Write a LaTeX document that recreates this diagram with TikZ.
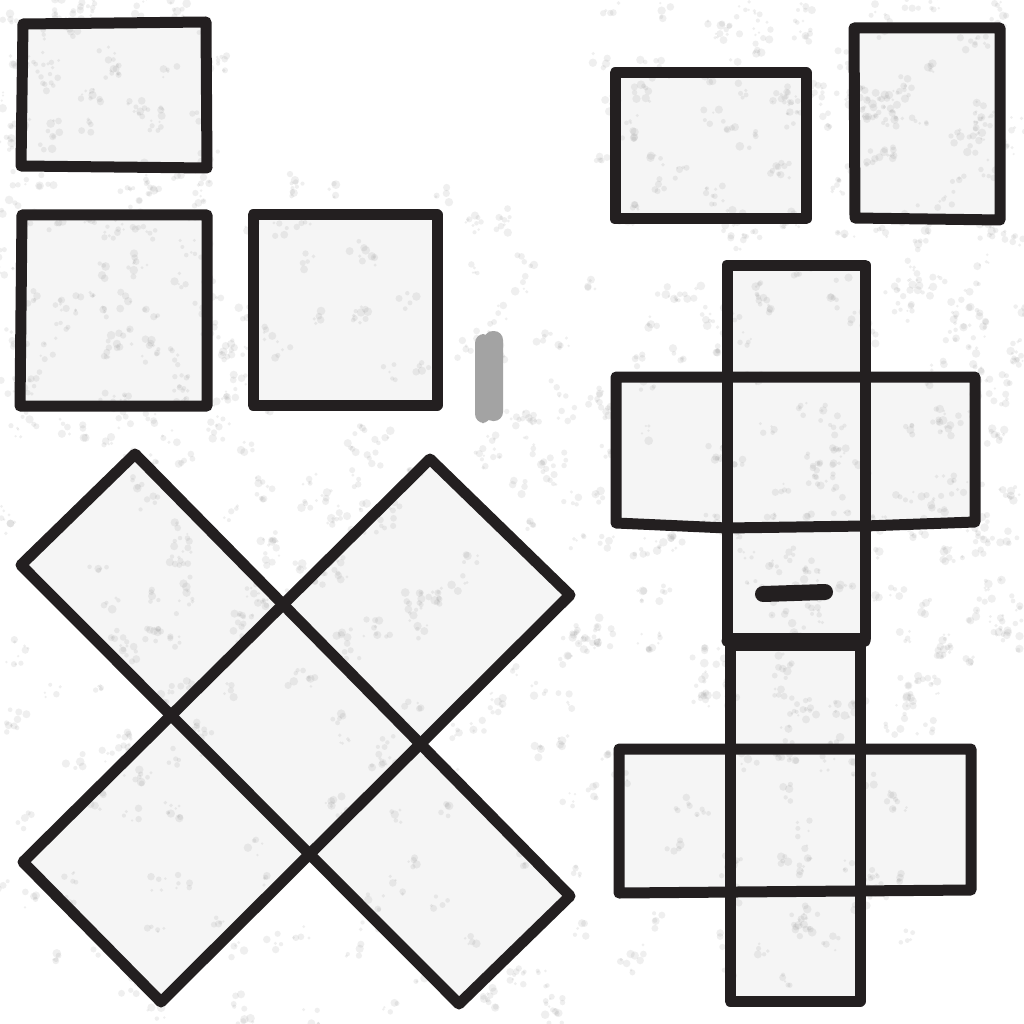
\documentclass[tikz,border=0pt]{standalone}
\definecolor{inkc}{HTML}{231F20}
\definecolor{smudgec}{HTML}{A3A3A3}
\tikzset{
  inkline/.style={draw=inkc, line width=11pt, line join=round, line cap=round},
  paper/.style={fill=black!4},
  speck/.style={fill=black!50, fill opacity=0.12, draw=none}
}
\begin{document}
\begin{tikzpicture}[x=1pt,y=-1pt]
\useasboundingbox[fill=white] (0,0) rectangle (1024,1024);
% paper fills
\fill[paper] (23,24) rectangle (207,168);
\fill[paper] (22,215) rectangle (207,406);
\fill[paper] (253,215) rectangle (437,405);
\fill[paper] (615,73) rectangle (806,219);
\fill[paper] (854,28) rectangle (1000,220);
\fill[paper] (727,265) -- (865,265) -- (865,377) -- (975,377) -- (975,522) -- (865,527) -- (865,638) -- (727,638) -- (727,528) -- (616,523) -- (616,377) -- (727,377) -- cycle;
\fill[paper] (730,645) -- (860,645) -- (860,749) -- (971,749) -- (971,890) -- (860,890) -- (860,1001) -- (730,1001) -- (730,890) -- (619,893) -- (619,749) -- (730,749) -- cycle;
\fill[paper] (135,454) -- (283,600) -- (430,459) -- (570,595) -- (425,745) -- (570,896) -- (459,1004) -- (308,855) -- (161,1002) -- (23,862) -- (166,715) -- (21,565) -- cycle;
% texture: clustered specks
\pgfmathsetseed{11}
\foreach \xa/\ya/\w/\h/\n in {0/0/230/440/110, 590/0/434/260/100, 0/440/600/584/170, 590/260/434/420/120, 590/680/330/300/60, 220/180/380/270/45, 900/250/124/500/30}{
  \foreach \k in {1,...,\n}{
    \pgfmathsetmacro\cx{\xa+rnd*\w}
    \pgfmathsetmacro\cy{\ya+rnd*\h}
    \foreach \j in {1,...,5}{
      \pgfmathsetmacro\px{\cx+rand*9}
      \pgfmathsetmacro\py{\cy+rand*9}
      \pgfmathsetmacro\pr{1.2+rnd*3.2}
      \fill[speck] (\px,\py) circle[radius=\pr];
    }
  }
}
% gray smudge
\fill[smudgec, rounded corners=9pt] (475,334) rectangle (491,423);
\fill[smudgec, rounded corners=9pt] (484,331) rectangle (503,421);
% left group of rectangles
\draw[inkline] (23,24) -- (206,22) -- (207,168) -- (21,166) -- cycle;
\draw[inkline] (22,215) -- (207,215) -- (207,406) -- (20,406) -- cycle;
\draw[inkline] (253,215) -- (437,215) -- (437,405) -- (253,405) -- cycle;
% right top rectangles
\draw[inkline] (615,73) -- (806,73) -- (806,219) -- (615,219) -- cycle;
\draw[inkline] (854,28) -- (1000,28) -- (1000,220) -- (855,218) -- cycle;
% upper cross net
\draw[inkline] (727,265) -- (865,265) -- (865,638) -- (727,638) -- cycle;
\draw[inkline] (616,377) -- (975,377) -- (975,522) -- (865,526) -- (727,528) -- (616,523) -- cycle;
\draw[inkline, line width=16pt] (763,594) -- (825,592);
% lower cross net
\draw[inkline] (730,645) -- (860,645) -- (860,1001) -- (730,1001) -- cycle;
\draw[inkline] (619,749) -- (971,749) -- (971,890) -- (619,893) -- cycle;
\draw[inkline] (727,641) -- (865,641);
% diamond X net
\draw[inkline] (135,454) -- (570,896) -- (459,1004) -- (21,565) -- cycle;
\draw[inkline] (430,459) -- (570,595) -- (161,1002) -- (23,862) -- cycle;
\end{tikzpicture}
\end{document}
